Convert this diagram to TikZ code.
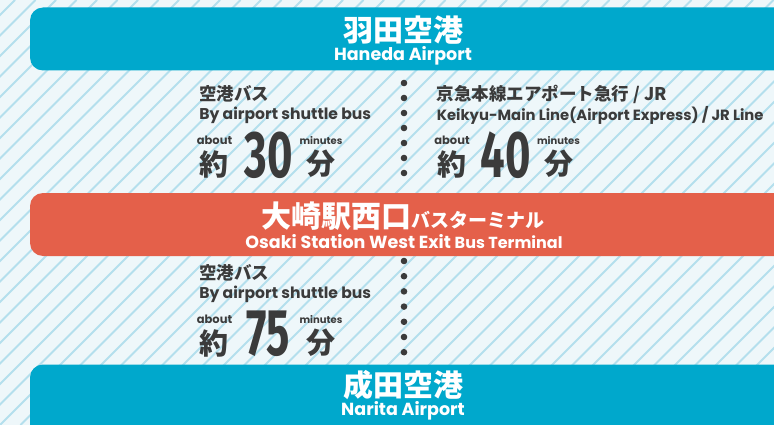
\documentclass[tikz,border=0pt]{standalone}
\usepackage{fontspec}
\usepackage{graphicx}
\setmainfont{Poppins}
\newfontfamily\jpfont{Noto Sans CJK JP}
\newfontfamily\numfont{Fira Sans}
\definecolor{bgblue}{RGB}{238,247,250}
\definecolor{stripeblue}{RGB}{180,223,237}
\definecolor{haneda}{RGB}{0,168,204}
\definecolor{osaki}{RGB}{228,96,74}
\definecolor{ink}{RGB}{59,59,59}

\begin{document}
\begin{tikzpicture}[x=1pt,y=-1pt,semithick]
  \tikzstyle{stripe}=[draw=stripeblue,line width=1.8pt]
  \tikzstyle{banner}=[rounded corners=13pt]
  \tikzstyle{title}=[text=white,inner sep=0pt,
    font=\jpfont\bfseries\fontsize{30}{30}\selectfont]
  \tikzstyle{subtitle}=[text=white,inner sep=0pt,
    font=\bfseries\fontsize{17.5}{17.5}\selectfont]
  \tikzstyle{jptext}=[text=ink,anchor=west,inner sep=0pt,
    font=\jpfont\bfseries\fontsize{17.5}{17.5}\selectfont]
  \tikzstyle{entext}=[text=ink,anchor=west,inner sep=0pt,
    font=\bfseries\fontsize{15.6}{15.6}\selectfont]
  \tikzstyle{small}=[text=ink,inner sep=0pt,
    font=\bfseries\fontsize{11.5}{11.5}\selectfont]
  \tikzstyle{tiny}=[text=ink,inner sep=0pt,
    font=\bfseries\fontsize{10}{10}\selectfont]
  \tikzstyle{kanji}=[text=ink,inner sep=0pt,
    font=\jpfont\bfseries\fontsize{29}{29}\selectfont]
  \tikzstyle{digits}=[text=ink,inner sep=0pt,
    font=\numfont\bfseries\fontsize{66}{66}\selectfont]
  \tikzstyle{dot}=[fill=ink]

  \useasboundingbox (0,0) rectangle (774,425);
  \fill[bgblue] (0,0) rectangle (774,425);
  \begin{scope}
    \clip (0,0) rectangle (774,425);
    \foreach \i in {-21,...,38}
      \draw[stripe] (\i*20.5,425) -- ++(425,-425);
    \fill[haneda,banner] (30,7.5) rectangle (800,70.5);
    \fill[osaki,banner] (30,193) rectangle (800,256);
    \fill[haneda,banner] (30,364.5) rectangle (800,440);
  \end{scope}

  % airports and bus terminal
  \node[title]    (1) at (403,30)    {羽田空港};
  \node[subtitle] (2) at (403,55.5)  {Haneda Airport};
  \node[title]    (3) at (402.5,216.5)
    {大崎駅西口{\fontsize{19}{19}\selectfont バスターミナル}};
  \node[subtitle] (4) at (404,241.5)
    {Osaki Station West Exit {\fontsize{16}{16}\selectfont Bus Terminal}};
  \node[title]    (5) at (403,385.5) {成田空港};
  \node[subtitle] (6) at (403,410.5) {Narita Airport};

  % haneda by bus
  \node[jptext] (11) at (199,94)    {空港バス};
  \node[entext] (12) at (199,115)   {By airport shuttle bus};
  \node[small]  (13) at (214.5,140) {about};
  \node[kanji]  (14) at (214,164)   {約};
  \node[digits] (15) at (268.5,155) {\scalebox{0.66}[1]{30}};
  \node[tiny]   (16) at (321,140.5) {minutes};
  \node[kanji]  (17) at (321,164)   {分};

  % haneda by train
  \begin{scope}[shift={(237.5,0)}]
    \node[jptext] (21) at (199,94)    {京急本線エアポート急行 / JR};
    \node[entext,font=\bfseries\fontsize{14.8}{14.8}\selectfont]
                  (22) at (199,115)   {Keikyu-Main Line(Airport Express) / JR Line};
    \node[small]  (23) at (214.5,140) {about};
    \node[kanji]  (24) at (214,164)   {約};
    \node[digits] (25) at (268.5,155) {\scalebox{0.66}[1]{40}};
    \node[tiny]   (26) at (321,140.5) {minutes};
    \node[kanji]  (27) at (321,164)   {分};
  \end{scope}

  % narita by bus
  \begin{scope}[shift={(0,179)}]
    \node[jptext] (31) at (199,94)    {空港バス};
    \node[entext] (32) at (199,115)   {By airport shuttle bus};
    \node[small]  (33) at (214.5,140) {about};
    \node[kanji]  (34) at (214,164)   {約};
    \node[digits] (35) at (268.5,155) {\scalebox{0.66}[1]{75}};
    \node[tiny]   (36) at (321,140.5) {minutes};
    \node[kanji]  (37) at (321,164)   {分};
  \end{scope}

  % dotted separators
  \foreach \k in {0,...,6} {
    \fill[dot] (404,83+15*\k) circle (3.3);
    \fill[dot] (404,261+15.2*\k) circle (3.3);
  }
\end{tikzpicture}
\end{document}
